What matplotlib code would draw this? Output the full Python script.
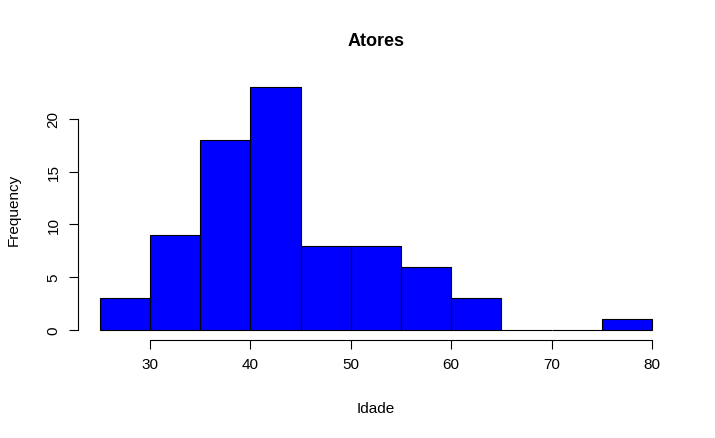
import numpy as np
import matplotlib.pyplot as plt

plt.rcParams['font.family'] = ['Liberation Sans', 'DejaVu Sans']

# histogram of actor ages, bins of 5 years
bin_edges = [25, 30, 35, 40, 45, 50, 55, 60, 65, 70, 75, 80]
counts = [3, 9, 18, 23, 8, 8, 6, 3, 0, 0, 1]

W, H = 715, 439
fig = plt.figure(figsize=(W / 100, H / 100), dpi=100)
left, right, bottom, top = 77.7, 674, 340.7, 78.6
ax = fig.add_axes([left / W, 1 - bottom / H, (right - left) / W, (bottom - top) / H])

widths = np.diff(bin_edges)
ax.bar(bin_edges[:-1], counts, width=widths, align='edge',
       color='#0000ff', edgecolor='black', linewidth=0.8)

ax.set_xlim(22.8, 82.2)
ax.set_ylim(-0.92, 23.92)

for s in ['top', 'right']:
    ax.spines[s].set_visible(False)
ax.spines['left'].set_bounds(0, 20)
ax.spines['bottom'].set_bounds(30, 80)
for s in ['left', 'bottom']:
    ax.spines[s].set_linewidth(0.8)

ax.set_xticks([30, 40, 50, 60, 70, 80])
ax.set_yticks([0, 5, 10, 15, 20])
ax.tick_params(direction='out', length=6.3, width=0.8, labelsize=11, pad=6)
for lab in ax.get_yticklabels():
    lab.set_rotation(90)
    lab.set_va('center')

fig.text((left + right) / 2 / W, 1 - 41 / H, 'Atores', ha='center', va='center',
         fontsize=13, fontweight='bold')
fig.text((left + right) / 2 / W, 1 - 409 / H, 'Idade', ha='center', va='center', fontsize=11)
fig.text(14 / W, 1 - (bottom + top) / 2 / H, 'Frequency', ha='center', va='center',
         rotation=90, fontsize=11)

fig.savefig('out.png', dpi=100)
